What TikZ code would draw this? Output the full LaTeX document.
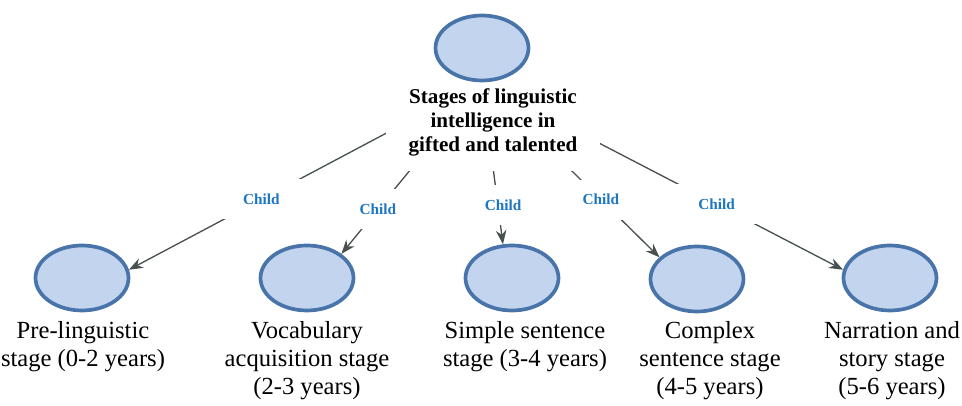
\documentclass[tikz,border=0pt]{standalone}
\usepackage{fontspec}
\setmainfont{Liberation Serif}
\usetikzlibrary{shapes.geometric,arrows.meta}
\pgfdeclarelayer{back}
\pgfsetlayers{back,main}
\definecolor{rim}{RGB}{72,116,170}
\definecolor{blob}{RGB}{194,212,238}
\definecolor{wire}{RGB}{72,80,80}
\definecolor{kidblue}{RGB}{28,118,196}

\begin{document}
\begin{tikzpicture}[
  stage/.style={ellipse, draw=rim, fill=blob, line width=2.1pt, minimum width=1.86cm, minimum height=1.3cm, inner sep=0pt},
  caption/.style={anchor=north, align=center, inner sep=0pt, font=\fontsize{14}{15.9}\selectfont},
  link/.style={draw=wire, line width=0.75pt, -{Stealth[length=8pt,width=6pt]}},
  kidtag/.style={fill=white, text=kidblue, font=\fontsize{8.7}{10}\selectfont\bfseries, minimum width=1.9cm, minimum height=0.8cm}]
\useasboundingbox (0,0) rectangle (19.24,-8.12);

% Root
\node[anchor=north, align=center, fill=white, inner xsep=0.45cm, inner ysep=0.3cm, font=\fontsize{12}{13.6}\selectfont\bfseries] (title) at (9.86,-1.47) {Stages of linguistic\\intelligence in\\gifted and talented};
\node[stage] (root) at (9.64,-0.96) {};

% Stages
\node[stage] (c1) at (1.64,-5.56) {};
\node[stage] (c2) at (6.14,-5.56) {};
\node[stage] (c3) at (10.24,-5.56) {};
\node[stage] (c4) at (13.94,-5.58) {};
\node[stage] (c5) at (17.80,-5.56) {};

\node[caption] (t1) at (1.66,-6.42) {Pre-linguistic\\stage (0-2 years)};
\node[caption] (t2) at (6.14,-6.42) {Vocabulary\\acquisition stage\\(2-3 years)};
\node[caption] (t3) at (10.50,-6.42) {Simple sentence\\stage (3-4 years)};
\node[caption] (t4) at (14.20,-6.42) {Complex\\sentence stage\\(4-5 years)};
\node[caption] (t5) at (17.84,-6.42) {Narration and\\story stage\\(5-6 years)};

% Links
\begin{pgfonlayer}{back}
\draw[link] (root.south) -- node[kidtag, pos=0.625] {Child} (c1.10);
\draw[link] (root.south) -- node[kidtag, pos=0.74] {Child} (c2.35);
\draw[link] (root.south) -- node[kidtag, pos=0.76, xshift=3pt] {Child} (c3.105);
\draw[link] (root.south) -- node[kidtag, pos=0.67] {Child} (c4.150);
\draw[link] (root.south) -- node[kidtag, pos=0.65] {Child} (c5.170);
\end{pgfonlayer}
\end{tikzpicture}
\end{document}
